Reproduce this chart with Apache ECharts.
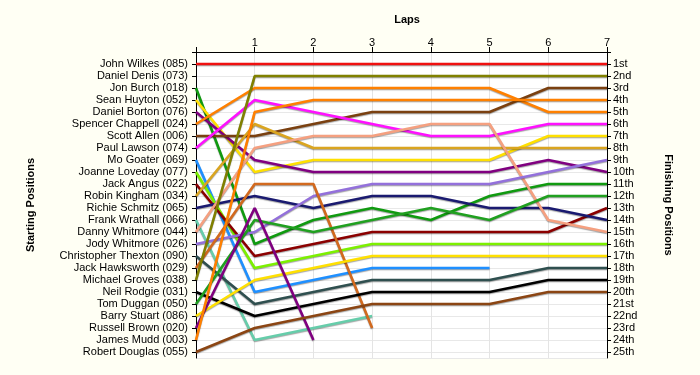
<!DOCTYPE html>
<html>
<head>
<meta charset="utf-8">
<script src="https://cdn.jsdelivr.net/npm/echarts@6/dist/echarts.min.js"></script>
<style>
html,body{margin:0;padding:0;background:#FFFFF4;}
#chart{width:700px;height:375px;}
</style>
</head>
<body>
<div id="chart"></div>
<script>
const lapNumbers = [0, 1, 2, 3, 4, 5, 6, 7];
const startNames = [
  'John Wilkes (085)', 'Daniel Denis (073)', 'Jon Burch (018)', 'Sean Huyton (052)',
  'Daniel Borton (076)', 'Spencer Chappell (024)', 'Scott Allen (006)', 'Paul Lawson (074)',
  'Mo Goater (069)', 'Joanne Loveday (077)', 'Jack Angus (022)', 'Robin Kingham (034)',
  'Richie Schmitz (065)', 'Frank Wrathall (066)', 'Danny Whitmore (044)', 'Jody Whitmore (026)',
  'Christopher Thexton (090)', 'Jack Hawksworth (029)', 'Michael Groves (038)', 'Neil Rodgie (031)',
  'Tom Duggan (050)', 'Barry Stuart (086)', 'Russell Brown (020)', 'James Mudd (003)',
  'Robert Douglas (055)'
];
const finishLabels = ['1st','2nd','3rd','4th','5th','6th','7th','8th','9th','10th','11th','12th','13th',
  '14th','15th','16th','17th','18th','19th','20th','21st','22nd','23rd','24th','25th'];

// position per lap (lap 0 = grid)
const johnWilkes = [1, 1, 1, 1, 1, 1, 1, 1];
const danielDenis = [2];
const jonBurch = [3, 16, 14, 13, 14, 12, 11, 11];
const seanHuyton = [4, 10, 9, 9, 9, 9, 7, 7];
const danielBorton = [5, 9, 10, 10, 10, 10, 9, 10];
const spencerChappell = [6, 3, 3, 3, 3, 3, 5, 5];
const scottAllen = [7, 7, 6, 5, 5, 5, 3, 3];
const paulLawson = [8, 4, 5, 6, 7, 7, 6, 6];
const moGoater = [9, 20, 19, 18, 18, 18];
const joanneLoveday = [10, 18, 17, 16, 16, 16, 16, 16];
const jackAngus = [11, 17, 16, 15, 15, 15, 15, 13];
const robinKingham = [12, 6, 8, 8, 8, 8, 8, 8];
const richieSchmitz = [13, 12, 13, 12, 12, 13, 13, 14];
const frankWrathall = [14, 24, 23, 22];
const dannyWhitmore = [15, 8, 7, 7, 6, 6, 14, 15];
const jodyWhitmore = [16, 15, 12, 11, 11, 11, 10, 9];
const christopherThexton = [17, 21, 20, 19, 19, 19, 18, 18];
const jackHawksworth = [18, 11, 11, 23];
const michaelGroves = [19, 2, 2, 2, 2, 2, 2, 2];
const neilRodgie = [20, 22, 21, 20, 20, 20, 19, 19];
const tomDuggan = [21, 14, 15, 14, 13, 14, 12, 12];
const barryStuart = [22, 19, 18, 17, 17, 17, 17, 17];
const russellBrown = [23, 13, 24];
const jamesMudd = [24, 5, 4, 4, 4, 4, 4, 4];
const robertDouglas = [25, 23, 22, 21, 21, 21, 20, 20];

const driverPositions = [johnWilkes, danielDenis, jonBurch, seanHuyton, danielBorton, spencerChappell,
  scottAllen, paulLawson, moGoater, joanneLoveday, jackAngus, robinKingham, richieSchmitz,
  frankWrathall, dannyWhitmore, jodyWhitmore, christopherThexton, jackHawksworth, michaelGroves,
  neilRodgie, tomDuggan, barryStuart, russellBrown, jamesMudd, robertDouglas];

const driverColors = ['#F01010', '#4060C0', '#109A10', '#FFE000', '#800080', '#FF8000',
  '#7A4010', '#FF10FF', '#1E8FFF', '#7CF000', '#8B0000', '#DAA520', '#1A1A70',
  '#66CDAA', '#F5A080', '#9370DB', '#2F4F4F', '#D2691E', '#808000',
  '#000000', '#20A020', '#FFE000', '#800080', '#FF8000', '#8B4513'];

const FONT = 'Liberation Sans, Arial, sans-serif';
const chart = echarts.init(document.getElementById('chart'), null, {renderer: 'canvas'});

const series = driverPositions.map((arr, i) => ({
  name: startNames[i],
  type: 'line',
  xAxisIndex: 0,
  yAxisIndex: 0,
  showSymbol: false,
  symbol: 'none',
  silent: true,
  data: arr.map((p, lap) => [lapNumbers[lap], p]),
  lineStyle: {
    width: 2.6, color: driverColors[i],
    shadowColor: 'rgba(0,0,0,0.35)', shadowOffsetY: 1, shadowOffsetX: 0, shadowBlur: 1
  },
  z: 3
}));

const option = {
  animation: false,
  backgroundColor: '#FFFFF4',
  title: {
    text: 'Laps', left: 402, top: 9, textAlign: 'center',
    textStyle: {fontFamily: FONT, fontSize: 11, fontWeight: 'bold', color: '#000'}
  },
  grid: {left: 196, right: 93, top: 52, bottom: 17, show: true, backgroundColor: '#FFFFFF', borderWidth: 0},
  xAxis: {
    type: 'value', position: 'top', min: 0, max: 7, interval: 1,
    axisLine: {show: true, lineStyle: {color: '#000', width: 1}},
    axisTick: {show: true, inside: false, length: 5, lineStyle: {color: '#000'}},
    axisLabel: {
      margin: 4, fontFamily: FONT, fontSize: 11, color: '#000',
      formatter: v => (v === 0 ? '' : String(v))
    },
    splitLine: {show: true, lineStyle: {color: '#E4E4E4', width: 1}}
  },
  yAxis: [
    {
      type: 'value', position: 'left', inverse: true, min: 0, max: 25.5, interval: 1,
      name: 'Starting Positions', nameLocation: 'middle', nameGap: 160, nameRotate: 90,
      nameTextStyle: {fontFamily: FONT, fontSize: 11, fontWeight: 'bold', color: '#000'},
      axisLine: {show: true, onZero: false, lineStyle: {color: '#000', width: 1}},
      axisTick: {show: true, inside: false, length: 4, lineStyle: {color: '#000'}},
      axisLabel: {
        margin: 8, fontFamily: FONT, fontSize: 11, color: '#000', showMaxLabel: false,
        formatter: v => (Number.isInteger(v) && v >= 1 && v <= 25 ? startNames[v - 1] : '')
      },
      splitLine: {show: true, lineStyle: {color: '#E8E8E8', width: 1}}
    },
    {
      type: 'value', position: 'right', inverse: true, min: 0, max: 25.5, interval: 1,
      name: 'Finishing Positions', nameLocation: 'middle', nameGap: 56, nameRotate: -90,
      nameTextStyle: {fontFamily: FONT, fontSize: 11, fontWeight: 'bold', color: '#000'},
      axisLine: {show: true, onZero: false, lineStyle: {color: '#000', width: 1}},
      axisTick: {show: true, inside: false, length: 4, lineStyle: {color: '#000'}},
      axisLabel: {
        margin: 6, fontFamily: FONT, fontSize: 11, color: '#000', showMaxLabel: false,
        formatter: v => (Number.isInteger(v) && v >= 1 && v <= 25 ? finishLabels[v - 1] : '')
      },
      splitLine: {show: false}
    }
  ],
  series: series
};
chart.setOption(option);
</script>
</body>
</html>
